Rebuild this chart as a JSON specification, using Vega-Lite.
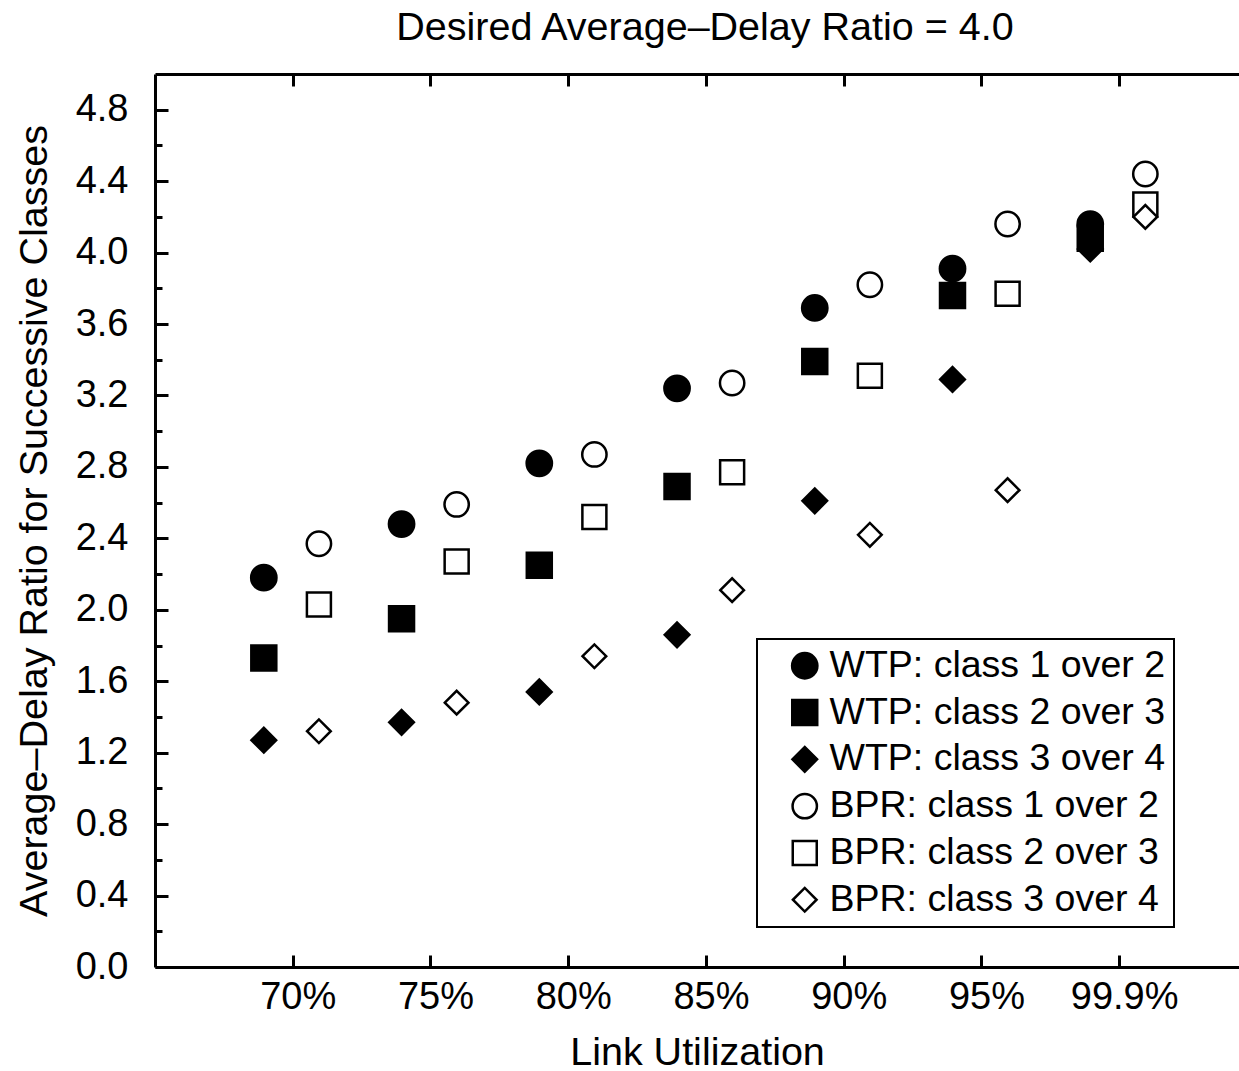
{
  "$schema": "https://vega.github.io/schema/vega-lite/v6.json",
  "width": 1084,
  "height": 893,
  "autosize": {"type": "none"},
  "padding": {"left": 155, "top": 74, "right": 0, "bottom": 104},
  "background": "white",
  "title": {
    "text": "Desired Average–Delay Ratio = 4.0",
    "fontSize": 39.5,
    "font": "Liberation Sans",
    "fontWeight": "normal",
    "color": "black",
    "anchor": "middle",
    "frame": "group",
    "offset": 24,
    "dx": 8
  },
  "config": {
    "view": {"stroke": null},
    "font": "Liberation Sans",
    "legend": {
      "orient": "none",
      "legendX": 602,
      "legendY": 565,
      "strokeColor": "black",
      "strokeWidth": 2,
      "fillColor": "white",
      "padding": 8,
      "rowPadding": 7.8,
      "labelFontSize": 37.5,
      "labelFont": "Liberation Sans",
      "labelColor": "black",
      "labelLimit": 600,
      "symbolStrokeWidth": 2.5,
      "symbolOffset": 21,
      "labelOffset": 6
    }
  },
  "datasets": {
    "pts": [
      {"series": "WTP: class 1 over 2", "util": "70%", "x": 68.95, "ratio": 2.18},
      {"series": "WTP: class 1 over 2", "util": "75%", "x": 73.95, "ratio": 2.48},
      {"series": "WTP: class 1 over 2", "util": "80%", "x": 78.95, "ratio": 2.82},
      {"series": "WTP: class 1 over 2", "util": "85%", "x": 83.95, "ratio": 3.24},
      {"series": "WTP: class 1 over 2", "util": "90%", "x": 88.95, "ratio": 3.69},
      {"series": "WTP: class 1 over 2", "util": "95%", "x": 93.95, "ratio": 3.91},
      {"series": "WTP: class 1 over 2", "util": "99.9%", "x": 98.95, "ratio": 4.16},
      {"series": "WTP: class 2 over 3", "util": "70%", "x": 68.95, "ratio": 1.73},
      {"series": "WTP: class 2 over 3", "util": "75%", "x": 73.95, "ratio": 1.95},
      {"series": "WTP: class 2 over 3", "util": "80%", "x": 78.95, "ratio": 2.25},
      {"series": "WTP: class 2 over 3", "util": "85%", "x": 83.95, "ratio": 2.69},
      {"series": "WTP: class 2 over 3", "util": "90%", "x": 88.95, "ratio": 3.39},
      {"series": "WTP: class 2 over 3", "util": "95%", "x": 93.95, "ratio": 3.76},
      {"series": "WTP: class 2 over 3", "util": "99.9%", "x": 98.95, "ratio": 4.08},
      {"series": "WTP: class 3 over 4", "util": "70%", "x": 68.95, "ratio": 1.27},
      {"series": "WTP: class 3 over 4", "util": "75%", "x": 73.95, "ratio": 1.37},
      {"series": "WTP: class 3 over 4", "util": "80%", "x": 78.95, "ratio": 1.54},
      {"series": "WTP: class 3 over 4", "util": "85%", "x": 83.95, "ratio": 1.86},
      {"series": "WTP: class 3 over 4", "util": "90%", "x": 88.95, "ratio": 2.61},
      {"series": "WTP: class 3 over 4", "util": "95%", "x": 93.95, "ratio": 3.29},
      {"series": "WTP: class 3 over 4", "util": "99.9%", "x": 98.95, "ratio": 4.02},
      {"series": "BPR: class 1 over 2", "util": "70%", "x": 70.95, "ratio": 2.37},
      {"series": "BPR: class 1 over 2", "util": "75%", "x": 75.95, "ratio": 2.59},
      {"series": "BPR: class 1 over 2", "util": "80%", "x": 80.95, "ratio": 2.87},
      {"series": "BPR: class 1 over 2", "util": "85%", "x": 85.95, "ratio": 3.27},
      {"series": "BPR: class 1 over 2", "util": "90%", "x": 90.95, "ratio": 3.82},
      {"series": "BPR: class 1 over 2", "util": "95%", "x": 95.95, "ratio": 4.16},
      {"series": "BPR: class 1 over 2", "util": "99.9%", "x": 100.95, "ratio": 4.44},
      {"series": "BPR: class 2 over 3", "util": "70%", "x": 70.95, "ratio": 2.03},
      {"series": "BPR: class 2 over 3", "util": "75%", "x": 75.95, "ratio": 2.27},
      {"series": "BPR: class 2 over 3", "util": "80%", "x": 80.95, "ratio": 2.52},
      {"series": "BPR: class 2 over 3", "util": "85%", "x": 85.95, "ratio": 2.77},
      {"series": "BPR: class 2 over 3", "util": "90%", "x": 90.95, "ratio": 3.31},
      {"series": "BPR: class 2 over 3", "util": "95%", "x": 95.95, "ratio": 3.77},
      {"series": "BPR: class 2 over 3", "util": "99.9%", "x": 100.95, "ratio": 4.27},
      {"series": "BPR: class 3 over 4", "util": "70%", "x": 70.95, "ratio": 1.32},
      {"series": "BPR: class 3 over 4", "util": "75%", "x": 75.95, "ratio": 1.48},
      {"series": "BPR: class 3 over 4", "util": "80%", "x": 80.95, "ratio": 1.74},
      {"series": "BPR: class 3 over 4", "util": "85%", "x": 85.95, "ratio": 2.11},
      {"series": "BPR: class 3 over 4", "util": "90%", "x": 90.95, "ratio": 2.42},
      {"series": "BPR: class 3 over 4", "util": "95%", "x": 95.95, "ratio": 2.67},
      {"series": "BPR: class 3 over 4", "util": "99.9%", "x": 100.95, "ratio": 4.20}
    ]
  },
  "layer": [
    {
      "mark": {"type": "rule", "strokeDash": [22, 12, 5, 12], "strokeWidth": 3, "color": "black"},
      "encoding": {
        "y": {"datum": 4, "type": "quantitative", "scale": {"domain": [0, 5], "nice": false}, "axis": null}
      }
    },
    {
      "data": {"name": "pts"},
      "mark": {"type": "point", "filled": true, "strokeWidth": 2.5, "opacity": 1},
      "encoding": {
        "x": {
          "field": "x", "type": "quantitative",
          "scale": {"domain": [65, 104.35], "nice": false, "zero": false},
          "axis": {
            "orient": "bottom",
            "values": [70, 75, 80, 85, 90, 95, 100],
            "labelExpr": "datum.value == 100 ? '99.9%' : datum.value + '%'",
            "title": "Link Utilization",
            "titleFontSize": 39.5, "titleFontWeight": "normal", "titleColor": "black", "titlePadding": 17,
            "labelFontSize": 38, "labelColor": "black", "labelPadding": 23, "labelOffset": 5,
            "labelFlush": false, "labelOverlap": false,
            "ticks": true, "tickSize": -12, "tickWidth": 3, "tickColor": "black",
            "domainColor": "black", "domainWidth": 3, "grid": false
          }
        },
        "y": {
          "field": "ratio", "type": "quantitative",
          "scale": {"domain": [0, 5], "nice": false},
          "axis": {
            "orient": "left",
            "values": [0, 0.4, 0.8, 1.2, 1.6, 2, 2.4, 2.8, 3.2, 3.6, 4, 4.4, 4.8],
            "format": ".1f",
            "title": "Average–Delay Ratio for Successive Classes",
            "titleFontSize": 39.5, "titleFontWeight": "normal", "titleColor": "black", "titlePadding": 21,
            "labelFontSize": 38, "labelColor": "black", "labelPadding": 40,
            "labelFlush": false, "labelOverlap": false,
            "ticks": true, "tickSize": -13, "tickWidth": 3, "tickColor": "black",
            "domainColor": "black", "domainWidth": 3, "grid": false
          }
        },
        "shape": {
          "field": "series", "type": "nominal",
          "scale": {
            "domain": ["WTP: class 1 over 2", "WTP: class 2 over 3", "WTP: class 3 over 4", "BPR: class 1 over 2", "BPR: class 2 over 3", "BPR: class 3 over 4"],
            "range": ["circle", "square", "diamond", "circle", "square", "diamond"]
          },
          "legend": {"title": null}
        },
        "fill": {
          "field": "series", "type": "nominal",
          "scale": {
            "domain": ["WTP: class 1 over 2", "WTP: class 2 over 3", "WTP: class 3 over 4", "BPR: class 1 over 2", "BPR: class 2 over 3", "BPR: class 3 over 4"],
            "range": ["black", "black", "black", "white", "white", "white"]
          },
          "legend": {"title": null}
        },
        "stroke": {
          "field": "series", "type": "nominal",
          "scale": {
            "domain": ["WTP: class 1 over 2", "WTP: class 2 over 3", "WTP: class 3 over 4", "BPR: class 1 over 2", "BPR: class 2 over 3", "BPR: class 3 over 4"],
            "range": ["black", "black", "black", "black", "black", "black"]
          },
          "legend": {"title": null}
        },
        "size": {
          "field": "series", "type": "nominal",
          "scale": {
            "domain": ["WTP: class 1 over 2", "WTP: class 2 over 3", "WTP: class 3 over 4", "BPR: class 1 over 2", "BPR: class 2 over 3", "BPR: class 3 over 4"],
            "range": [640, 560, 680, 640, 560, 680]
          },
          "legend": {"title": null}
        }
      }
    },
    {
      "data": {"name": "pts"},
      "mark": {"type": "point", "opacity": 0},
      "encoding": {
        "x": {
          "field": "x", "type": "quantitative",
          "scale": {"domain": [65, 104.35], "nice": false, "zero": false},
          "axis": {
            "orient": "top",
            "values": [70, 75, 80, 85, 90, 95, 100],
            "labels": false, "title": null,
            "tickSize": -12, "tickWidth": 3, "tickColor": "black",
            "domainColor": "black", "domainWidth": 3, "grid": false
          }
        },
        "y": {
          "field": "ratio", "type": "quantitative",
          "scale": {"domain": [0, 5], "nice": false},
          "axis": {
            "orient": "left",
            "values": [0.2, 0.6, 1, 1.4, 1.8, 2.2, 2.6, 3, 3.4, 3.8, 4.2, 4.6],
            "labels": false, "title": null, "domain": false,
            "tickSize": -7, "tickWidth": 3, "tickColor": "black", "grid": false
          }
        }
      }
    }
  ],
  "resolve": {"axis": {"x": "independent", "y": "independent"}}
}
